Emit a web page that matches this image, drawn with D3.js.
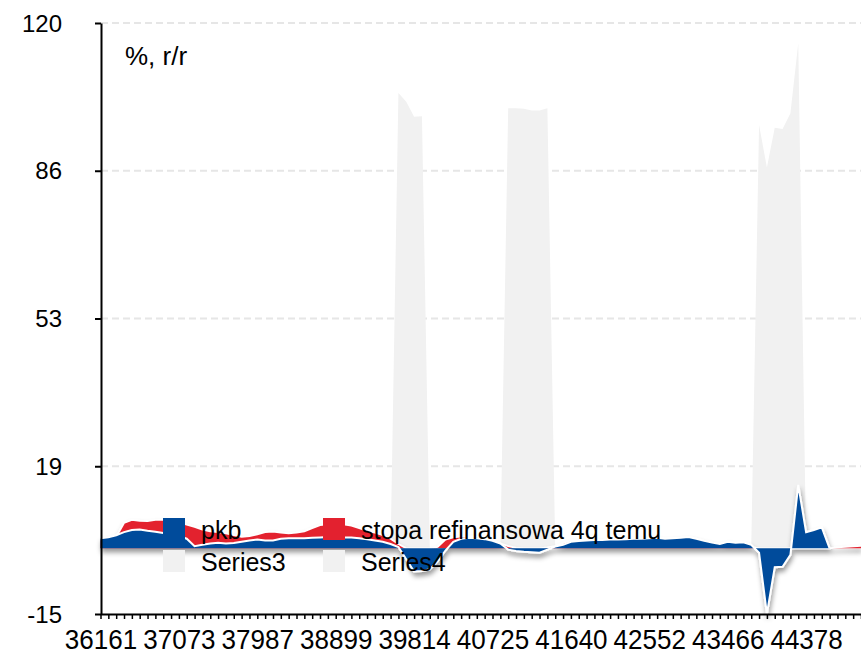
<!DOCTYPE html>
<html><head><meta charset="utf-8">
<script src="https://cdn.jsdelivr.net/npm/d3@7"></script>
<style>
html,body{margin:0;padding:0;background:#fff;overflow:hidden}
text{font-family:"Liberation Sans",Arial,Helvetica,sans-serif;fill:#000}
</style>
</head><body>
<svg id="c" width="861" height="658"></svg>
<script>
// ---- data ----
// quarterly categories (Excel serial date of the quarter start), 1999Q1 .. 2023Q2
const startYear = 1999, nQuarters = 98;
const excelSerial = (y, m) => Math.round((Date.UTC(y, m, 1) - Date.UTC(1899, 11, 30)) / 86400000);
const categories = d3.range(nQuarters).map(i => String(excelSerial(startYear + Math.floor(i / 4), (i % 4) * 3)));

const xTickLabels = ["36161","37073","37987","38899","39814","40725","41640","42552","43466","44378"];
const yTicks = [-15, 18.75, 52.5, 86.25, 120];
const yTickLabels = ["-15","19","53","86","120"];

const pkb = [2.3,2.5,3.0,3.7,4.2,4.3,4.0,3.8,3.5,3.2,
  2.8,2.2,0.5,0.8,1.1,1.3,1.1,1.2,1.5,1.8,
  2.0,1.8,1.8,2.2,2.3,2.3,2.3,2.4,2.5,2.6,
  2.6,2.5,2.5,2.3,2.1,1.8,1.5,1.0,0.3,-2.5,
  -5.3,-5.2,-4.8,-3.0,-0.5,1.5,2.2,2.4,2.3,2.1,
  1.7,1.1,-0.3,-0.6,-0.8,-0.9,-1.0,-0.3,0.4,0.8,
  1.5,1.7,1.8,1.9,1.9,2.0,2.0,2.1,2.2,2.2,
  2.3,2.4,2.2,2.3,2.4,2.6,2.2,1.7,1.3,1.0,
  1.5,1.3,1.4,0.8,-1.0,-15,-4.3,-4.2,-1.5,14.5,
  3.7,4.2,4.8,0,null,null,null,null];

const stopa4q = [2.0,2.2,2.6,5.8,6.5,6.3,6.2,6.5,6.5,6.3,
  6.0,5.4,4.9,4.3,3.9,3.7,3.4,3.0,2.6,2.8,
  3.2,3.7,3.8,3.6,3.4,3.6,3.9,4.6,5.3,5.5,
  5.5,5.5,5.2,4.6,4.0,3.6,3.0,2.2,1.0,0,
  0,0,0,0.3,2.0,2.5,2.7,2.7,2.6,2.4,
  1.8,1.1,0.5,0.1,0,0,0,0.2,0.5,1.2,
  1.8,1.7,1.5,1.5,1.0,1.0,1.0,1.0,1.0,1.0,
  1.0,1.0,1.0,1.0,1.0,1.0,1.0,0.8,0.6,0.5,
  0.6,0.6,0.6,0.3,0,0,0,0,0,0,
  0,0,0,0,0.2,0.35,0.45,0.55];

const series3 = [0,0,0,0,0,0,0,0,0,0, 0,0,0,0,0,0,0,0,0,0,
  0,0,0,0,0,0,0,0,0,0, 0,0,0,0,0,0,0,0,104,102,
  98.6,98.7,0,0,0,0,0,0,0,0, 0,0,100.5,100.5,100.4,100.0,100.0,100.5,0,0,
  0,0,0,0,0,0,0,0,0,0, 0,0,0,0,0,0,0,0,0,0,
  0,0,0,0,0,0,0,0,0,0, 0,0,0,0,0,0,0,0];

const series4 = [0,0,0,0,0,0,0,0,0,0, 0,0,0,0,0,0,0,0,0,0,
  0,0,0,0,0,0,0,0,0,0, 0,0,0,0,0,0,0,0,0,0,
  0,0,0,0,0,0,0,0,0,0, 0,0,0,0,0,0,0,0,0,0,
  0,0,0,0,0,0,0,0,0,0, 0,0,0,0,0,0,0,0,0,0,
  0,0,0,0,96.7,87,96.1,95.8,99.4,115.4, 0,0,0,0,0,0,0,0];

const legendNames = ["pkb", "stopa refinansowa 4q temu", "Series3", "Series4"];
const colors = {pkb: "#004b9b", stopa: "#e3212f", gray: "#f1f1f1"};
const yUnit = "%, r/r";

// ---- layout ----
const svg = d3.select("#c");
const x = d3.scalePoint().domain(categories).range([100.5, 100.5 + 7.84 * (nQuarters - 1)]);
const y = d3.scaleLinear().domain([-15, 120]).range([614, 23]);

const defs = svg.append("defs");
const f = defs.append("filter").attr("id", "sh").attr("x", "-5%").attr("y", "-20%").attr("width", "110%").attr("height", "160%");
f.append("feDropShadow").attr("dx", 1).attr("dy", 4).attr("stdDeviation", 2.8)
  .attr("flood-color", "#000").attr("flood-opacity", 0.4);

// gridlines
svg.append("g").selectAll("line").data(yTicks.filter(d => d > -15)).join("line")
  .attr("x1", 101).attr("x2", 861).attr("y1", d => y(d)).attr("y2", d => y(d))
  .attr("stroke", "#e6e6e6").attr("stroke-width", 2).attr("stroke-dasharray", "7,4");

const idx = d3.range(nQuarters);
const areaOf = arr => d3.area().defined(i => arr[i] != null)
  .x(i => x(categories[i])).y0(y(0)).y1(i => y(arr[i]));
const lineOf = arr => d3.line().defined(i => arr[i] != null)
  .x(i => x(categories[i])).y(i => y(arr[i]));

// gray series
svg.append("path").attr("d", areaOf(series3)(idx)).attr("fill", colors.gray);
svg.append("path").attr("d", areaOf(series4)(idx)).attr("fill", colors.gray);

// data group with shadow
const dg = svg.append("g").attr("filter", "url(#sh)");
dg.append("path").attr("d", areaOf(stopa4q)(idx)).attr("fill", colors.stopa);
dg.append("path").attr("d", lineOf(stopa4q)(idx)).attr("fill", "none").attr("stroke", "#fff").attr("stroke-width", 1.8);
dg.append("path").attr("d", areaOf(pkb)(idx)).attr("fill", colors.pkb);
dg.append("path").attr("d", lineOf(pkb)(idx)).attr("fill", "none").attr("stroke", "#fff").attr("stroke-width", 2);

// axes
const tickSet = new Set(xTickLabels);
const xa = svg.append("g").attr("transform", `translate(0,${y(-15)})`)
  .call(d3.axisBottom(x).tickValues(categories).tickSize(5).tickSizeOuter(0).tickPadding(10)
    .tickFormat(d => tickSet.has(d) ? d : ""));
xa.select(".domain").attr("stroke", "#000").attr("stroke-width", 2);
xa.selectAll(".tick line").attr("stroke", "#000").attr("stroke-width", 1.5);
xa.selectAll(".tick text").attr("font-size", 28).attr("transform", "scale(0.93,1)")
  .style("font-family", '"Liberation Sans",Arial,sans-serif').attr("fill", "#000");

const ya = svg.append("g").attr("transform", "translate(101,0)")
  .call(d3.axisLeft(y).tickValues(yTicks).tickSize(6).tickSizeOuter(0).tickPadding(33)
    .tickFormat((d, i) => yTickLabels[i]));
ya.select(".domain").attr("stroke", "#000").attr("stroke-width", 2);
ya.selectAll(".tick line").attr("stroke", "#000").attr("stroke-width", 2);
ya.selectAll(".tick text").attr("font-size", 24).attr("dy", "0.34em")
  .style("font-family", '"Liberation Sans",Arial,sans-serif').attr("fill", "#000");

// legend
const legendColors = [colors.pkb, colors.stopa, colors.gray, colors.gray];
const lg = svg.append("g");
legendNames.forEach((n, i) => {
  const lx = i % 2 === 0 ? 163 : 323, ly = i < 2 ? 518 : 550;
  lg.append("rect").attr("x", lx).attr("y", ly).attr("width", 22).attr("height", 22).attr("fill", legendColors[i]);
  lg.append("text").attr("x", lx + 38).attr("y", ly + 21).attr("font-size", 25).text(n);
});

svg.append("text").attr("x", 125).attr("y", 65).attr("font-size", 26).text(yUnit);
</script>
</body></html>
